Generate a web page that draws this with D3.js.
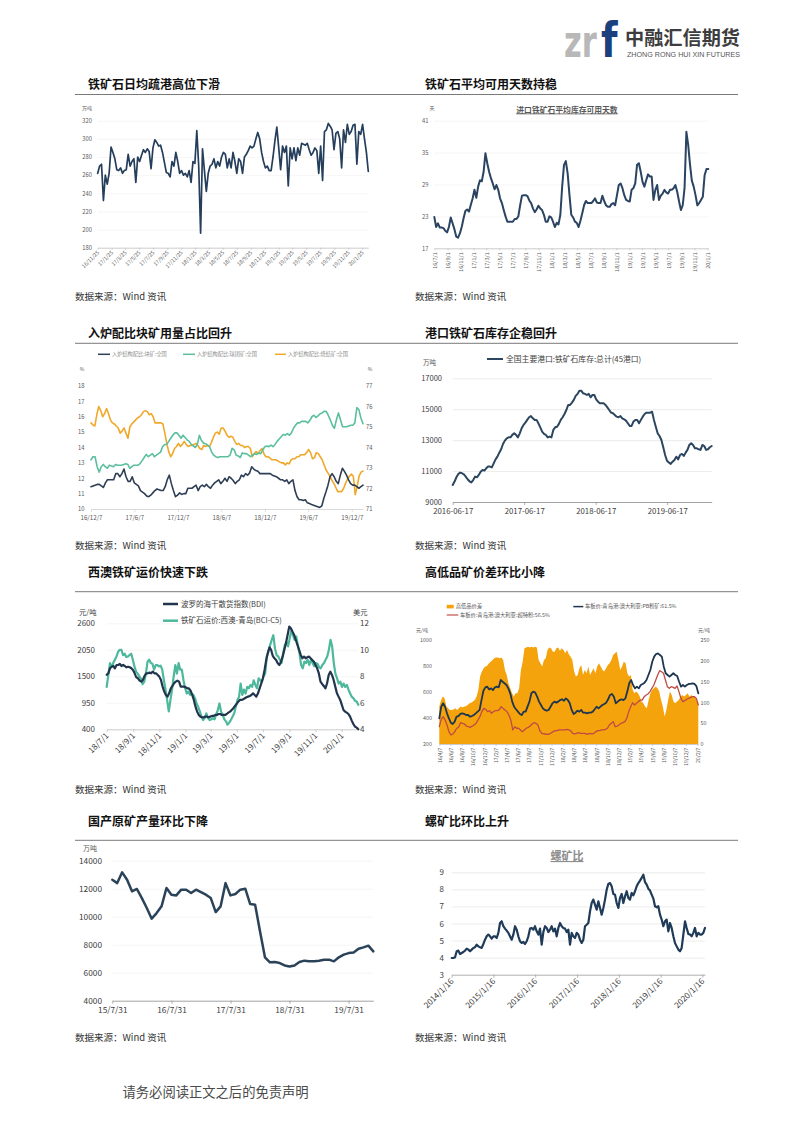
<!DOCTYPE html>
<html><head><meta charset="utf-8">
<script src="https://cdn.jsdelivr.net/npm/d3@7"></script>
<style>body{margin:0;background:#fff}</style>
</head><body><div id="page"></div>
<script>
// ---------------- DATA ----------------
// Chart 1: 铁矿石日均疏港 (万吨)
const c1_ticks = ["16/11/25","17/1/25","17/3/25","17/5/25","17/7/25","17/9/25","17/11/25","18/1/25","18/3/25","18/5/25","18/7/25","18/9/25","18/11/25","19/1/25","19/3/25","19/5/25","19/7/25","19/9/25","19/11/25","20/1/25"];
const c1_yticks = [180,200,220,240,260,280,300,320];
const c1_values = [262,270,272,232,260,250,262,291,285,278,266,265,268,262,265,266,283,270,275,278,252,280,275,282,288,285,289,286,267,290,299,296,292,293,285,274,263,262,258,275,270,285,275,262,265,260,262,258,265,252,275,273,309,270,196,289,265,242,262,270,272,278,268,275,270,280,285,283,268,278,268,285,275,262,278,275,262,280,283,287,292,290,292,300,307,300,285,275,268,270,265,265,280,298,313,290,266,292,285,292,248,290,278,290,276,290,282,295,294,293,295,288,282,285,290,287,262,292,254,308,310,317,314,310,288,306,308,300,268,310,296,316,305,308,315,316,272,308,305,316,300,285,264];

// Chart 2: 进口铁矿石平均库存可用天数 (天)
const c2_ticks = ["16/7/1","16/9/1","16/11/1","17/1/1","17/3/1","17/5/1","17/7/1","17/9/1","17/11/1","18/1/1","18/3/1","18/5/1","18/7/1","18/9/1","18/11/1","19/1/1","19/3/1","19/5/1","19/7/1","19/9/1","19/11/1","20/1/1"];
const c2_yticks = [17,23,29,35,41];
const c2_values = [22.9,21,21.7,20.9,20.9,20.8,20.3,20,21,22.8,21.7,20.6,19.2,19,19.8,21,22.6,24,24.3,23.9,25.2,26.4,28,26.5,28.6,29.8,29.6,31.4,34.9,33,31.4,30.2,29.2,28.1,28.9,28,26.4,25.5,24.2,23,22,22,22,22,22.5,22.5,23,25.1,26.9,27,27,26.8,26,25.5,24.5,23.8,24.3,25,24.5,24.2,23.3,22,22,23,22.8,22,21,21.8,21.5,23.3,28.6,32.7,33.4,31.1,27,23.3,22.8,22,21.8,21,22.2,23.6,25.1,25.9,25.5,25.5,25.5,25.9,26.4,25.6,25.5,25.5,26.9,25.9,25.1,24.8,24.8,25.3,25.5,25.1,27,28.9,29.2,28.3,27,26.1,25.9,25.8,28,28.3,29.2,32.7,33,31.4,29.5,28.6,29.8,30.9,30.5,30.5,26.1,28,28.9,26.1,26.9,27.3,28,27.5,27.3,28,28,28.3,28.9,27.6,25.8,24.2,25.1,28.3,38.9,36.4,32.7,29.7,28.6,27,25.1,25.5,26.1,26.7,30.8,31.9,31.9];

// Chart 3: 入炉结构配比 (%)
const c3_ticks = ["16/12/7","17/6/7","17/12/7","18/6/7","18/12/7","19/6/7","19/12/7"];
const c3_names = ["入炉结构配比:块矿:全国","入炉结构配比:球团矿:全国","入炉结构配比:烧结矿:全国"];
const c3_yticksL = [10,11,12,13,14,15,16,17,18];
const c3_yticksR = [71,72,73,74,75,76,77];
const c3_lump = [11.45,11.5,11.55,11.6,11.6,11.5,11.4,11.7,11.9,11.9,11.9,11.9,12.3,12.3,12.1,12.3,12.6,12.1,11.8,11.8,12.1,11.7,11.6,11.5,11.2,11.1,11,10.85,10.8,10.9,11.05,11.2,11.3,11.25,11.2,11.2,11.45,11.9,12.2,11.65,11.2,10.8,10.9,11.05,10.95,11,11,11.35,11.35,11.35,11.45,11.55,11.2,11.45,11.55,11.45,11.6,11.45,11.35,11.55,11.7,11.8,11.9,11.65,11.8,12,11.8,12.1,12,11.85,11.65,11.8,11.9,12.2,12.1,12.3,12.2,12.35,12.75,12.6,12.5,12.45,12.3,12.3,12.3,12.3,12.3,12.3,12.2,12.15,12.1,12,11.9,11.9,11.8,11.9,11.65,11.8,11.9,11.2,10.8,10.6,10.6,10.55,10.6,10.4,10.35,10.3,10.25,10.2,10.15,10.1,10.2,10.7,11.1,11.55,12.1,12.3,12.1,11.8,11.65,12.2,12.65,12.45,12.2,11.9,11.65,11.55,11.55,11.45,11.35,11.45,11.55];
const c3_pellet = [13.2,13.4,13.4,12.75,12.4,12.75,12.9,12.75,12.65,12.85,12.8,12.75,12.9,12.85,12.85,12.85,12.9,12.95,12.9,12.65,12.75,12.85,12.85,12.85,12.95,13.15,13.35,13.55,13.4,13.5,13.6,13.4,13.5,13.6,13.7,14.05,14.2,14.2,14.4,14.6,14.8,14.95,14.95,14.8,14.6,14.8,14.65,14.5,14.4,14.2,14.1,14,14.2,14.8,14.45,14.3,14.25,14.15,14.05,13.7,13.5,13.4,13.35,13.4,13.4,13.4,13.4,13.4,13.5,13.95,13.85,13.5,13.45,13.35,13.65,13.6,13.6,13.5,13.4,13.5,13.6,13.55,13.65,13.6,13.85,14.05,14.1,14.05,14.15,14.05,14.2,14.4,14.55,14.7,14.85,14.8,14.9,14.8,14.95,15.25,15.45,15.6,15.6,15.7,15.7,15.7,15.6,15.75,16,16.1,15.95,16.05,16.2,16.25,16.35,16.35,16.1,15.8,15.45,15.25,15.8,16.25,15.8,15.35,15.35,15.35,15.4,15.45,15.45,15.6,16.6,16.45,15.9,15.55];
const c3_sinter = [75.2,75.1,75.05,75.6,76.0,75.8,75.5,75.65,75.9,75.65,75.35,75.2,75.15,75.05,74.95,74.7,74.8,74.95,74.7,74.45,75,75.15,75.25,75.35,75.45,75.5,75.6,75.75,75.8,75.75,75.6,75.65,75.5,75.2,75.2,75.2,75.2,75.15,74.7,74.2,73.8,73.55,73.7,73.95,74.05,74.2,74.05,74.15,74.3,74.15,74.05,74.1,74.1,74.15,74.2,74.1,73.95,73.9,74.1,74.05,74.1,74.05,74.25,74.5,74.7,74.75,74.65,74.95,74.95,74.8,74.6,74.5,74.55,74.5,74.3,74.15,74.2,74.1,74.1,74,74.05,74.05,73.95,73.55,73.7,73.8,73.7,73.85,73.95,73.7,73.55,73.55,73.5,73.4,73.4,73.4,73.35,73.3,73.25,73.25,73.15,73.25,73.2,73.4,73.45,73.45,73.55,73.55,73.65,73.65,73.65,73.75,73.9,73.75,73.45,73.5,73.75,73.7,73.55,73.4,73.15,72.9,72.75,72.6,72.4,72.25,72.05,71.85,71.85,71.85,72,72.25,72.45,72.6,72.7,72.6,71.7,72.1,72.6,72.8,72.85];

// Chart 4: 全国主要港口铁矿石库存 (万吨)
const c4_ticks = ["2016-06-17","2017-06-17","2018-06-17","2019-06-17"];
const c4_name = "全国主要港口:铁矿石库存:总计(45港口)";
const c4_yticks = [9000,11000,13000,15000,17000];
const c4_values = [10100,10320,10600,10810,10900,10860,10790,10640,10470,10340,10270,10420,10640,10600,10750,10960,11070,11030,11180,11290,11290,11240,11500,11760,11930,12190,12410,12750,12970,13120,13180,13180,13340,13440,13340,13180,13440,13770,13980,14130,14310,14480,14560,14410,14310,14310,14090,13830,13550,13400,13340,13180,13230,13180,13660,13830,13870,14050,14310,14480,14690,14950,15280,15280,15430,15600,15860,15990,16200,16200,16030,15990,15920,15990,15770,15920,15920,15640,15490,15380,15380,15380,15280,15120,14950,14780,14740,14630,14520,14480,14560,14410,14350,14260,14090,13920,13920,14200,14310,14310,14090,14310,14520,14690,14780,14780,14780,14840,14310,13870,13440,13270,13010,12540,12040,11670,11550,11460,11610,11720,11930,11760,12040,12110,11980,12190,12370,12690,12800,12690,12470,12470,12410,12370,12690,12620,12370,12410,12540,12620];

// Chart 5: BDI & BCI-C5
const c5_ticks = ["18/7/1","18/9/1","18/11/1","19/1/1","19/3/1","19/5/1","19/7/1","19/9/1","19/11/1","20/1/1"];
const c5_names = ["波罗的海干散货指数(BDI)","铁矿石运价:西澳-青岛(BCI-C5)"];
const c5_yticksL = [400,950,1500,2050,2600];
const c5_yticksR = [4,6,8,10,12];
const c5_bdi = [1530,1562,1666,1700,1714,1666,1735,1735,1756,1714,1735,1714,1687,1700,1687,1666,1631,1562,1479,1459,1410,1389,1424,1507,1562,1562,1576,1562,1597,1562,1562,1528,1493,1424,1286,1182,1113,1078,1147,1251,1299,1355,1389,1410,1389,1286,1286,1286,1272,1251,1251,1203,1113,1009,870,767,698,663,649,649,663,663,649,663,677,677,698,698,718,718,698,698,698,718,746,767,801,836,884,926,974,1009,1009,1023,1043,1064,1078,1092,1113,1147,1113,1078,1147,1251,1355,1459,1631,1839,1991,2102,2047,1922,1874,1839,1770,1735,1804,1908,2047,2185,2358,2531,2496,2427,2358,2254,2150,2047,1943,1874,1908,1874,1894,1908,1874,1839,1804,1735,1666,1562,1389,1341,1299,1251,1355,1528,1597,1528,1424,1286,1147,1078,1009,905,801,767,746,718,663,580,511,455,435,400];
const c5_bci = [7.2,8.1,9.0,8.7,9.0,9.25,9.5,9.85,10.0,10.0,9.6,9.7,9.45,9.5,9.6,9.7,9.25,8.75,8.35,8.2,8.0,7.8,7.4,7.6,8.2,9.1,9.25,9.0,8.95,8.5,8.85,8.85,8.75,8.8,8.5,7.7,7.0,6.2,5.35,6.2,7.0,8.0,8.85,8.2,9.0,8.5,8.5,7.7,7.1,6.7,6.85,6.6,6.7,6.6,6.35,5.95,5.7,5.35,4.95,4.7,4.85,5.2,4.85,4.7,4.75,4.85,4.75,5.1,5.45,5.95,5.35,5.1,4.75,4.6,4.35,4.5,4.7,4.95,5.2,5.7,6.2,6.45,7.45,6.6,7.0,6.7,7.2,7.1,7.35,7.2,7.7,7.35,7.1,7.85,7.7,7.6,8.0,8.2,9.5,9.85,10.35,10.75,11.1,10.1,9.6,9.5,9.25,9.0,9.75,10.35,10.6,10.25,10.85,11.5,11.1,10.75,11.0,10.35,9.75,8.85,8.6,9.1,9.0,9.25,8.85,9.25,9.0,8.75,9.0,8.95,8.7,8.6,8.85,9.0,9.25,9.5,10.0,10.75,10.25,9.0,8.2,7.85,7.45,7.6,7.2,7.45,7.2,7.35,7.0,6.7,6.45,6.35,6.15,6.1,5.85];

// Chart 6: 高低品价差 (元/吨)
const c6_ticks = ["16/4/7","16/6/7","16/8/7","16/10/7","16/12/7","17/2/7","17/4/7","17/6/7","17/8/7","17/10/7","17/12/7","18/2/7","18/4/7","18/6/7","18/8/7","18/10/7","18/12/7","19/2/7","19/4/7","19/6/7","19/8/7","19/10/7","19/12/7","20/2/7"];
const c6_names = ["高低品价差","车板价:青岛港:澳大利亚:PB粉矿:61.5%","车板价:青岛港:澳大利亚:超特粉:56.5%"];
const c6_yticksL = [200,400,600,800,1000];
const c6_yticksR = [0,50,100,150,200,250];
const c6_spread = [90,106,114,110,90,86,82,82,83,86,82,86,90,88,90,91,94,98,99,102,106,114,130,162,174,182,186,188,194,198,202,206,208,208,206,208,202,178,166,146,134,122,114,122,122,134,178,198,230,232,234,232,234,232,234,232,202,194,186,202,206,226,232,230,222,222,230,232,224,230,226,218,226,216,210,202,174,162,166,182,190,166,178,170,186,166,174,182,170,186,194,186,178,174,182,190,194,202,214,218,222,202,178,186,198,194,170,162,166,130,122,126,122,114,102,98,90,86,106,122,130,134,138,134,126,106,90,66,82,106,126,118,102,98,102,106,114,118,114,118,122,114,118,114,115,106,98];
const c6_pb = [397,487,513,487,436,397,364,354,372,410,415,431,436,431,423,423,410,415,423,436,449,462,538,610,636,641,620,628,615,636,641,636,692,679,667,654,628,590,526,487,467,449,431,423,449,449,487,526,590,603,595,564,526,500,474,462,456,462,487,513,526,518,526,538,544,533,551,538,513,462,431,441,456,449,462,441,441,436,441,441,449,467,487,474,487,500,508,518,544,577,585,564,513,526,538,544,538,551,603,667,692,654,628,641,628,654,662,672,692,731,769,833,872,892,897,885,872,795,744,731,718,731,744,731,723,679,641,654,641,654,662,662,667,662,646,590];
const c6_ssf = [333,390,410,385,346,295,269,277,295,321,328,364,359,354,338,333,328,338,346,359,385,410,449,474,467,449,456,436,449,456,456,462,487,474,462,449,423,385,308,333,321,321,308,295,308,321,328,338,354,364,359,346,303,282,277,277,274,277,287,295,303,303,308,308,308,308,313,308,303,282,277,282,287,282,282,282,277,277,282,277,282,295,303,303,308,308,313,321,346,359,372,333,338,346,359,364,372,397,449,487,518,500,513,526,538,538,564,577,585,603,628,654,692,731,764,756,744,692,641,628,641,636,628,646,603,551,526,533,544,551,556,564,564,551,500];

// Chart 7: 国产原矿产量 (万吨, 月度)
const c7_ticks = ["15/7/31","16/7/31","17/7/31","18/7/31","19/7/31"];
const c7_yticks = [4000,6000,8000,10000,12000,14000];
const c7_values = [12640,12400,13170,12640,11810,11980,11330,10620,9860,10260,10740,12050,11570,11520,11930,11930,11690,11930,11760,11570,11330,10330,10740,12400,11520,11620,11930,12000,10900,10860,8950,7100,6740,6760,6690,6520,6450,6520,6760,6860,6810,6810,6860,6930,6930,6810,7100,7290,7400,7450,7710,7810,7930,7520];

// Chart 8: 螺矿比
const c8_ticks = ["2014/1/16","2015/1/16","2016/1/16","2017/1/16","2018/1/16","2019/1/16","2020/1/16"];
const c8_yticks = [3,4,5,6,7,8,9];
const c8_values = [3.98,3.98,4.02,4.37,4.41,4.21,4.27,4.33,4.41,4.53,4.47,4.37,4.47,4.57,4.61,4.76,4.66,4.61,4.57,4.8,5.05,5.25,5.35,5.25,5.11,5.25,5.25,5.15,5.45,6.03,6.13,5.84,5.7,5.58,5.45,5.25,5.05,5.35,5.84,5.64,5.25,4.96,4.86,4.92,4.8,4.96,5.25,5.7,5.74,5.64,5.84,5.54,5.35,5.7,4.76,5.5,5.84,5.74,5.5,5.64,5.84,5.54,5.7,5.25,5.74,6.03,5.84,5.74,5.7,5.5,5.64,4.76,5.45,5.25,5.15,5.45,5.35,5.05,4.86,5.05,5.84,5.93,6.03,6.71,7.2,7.4,7.11,6.81,7.3,6.91,6.52,6.91,7.4,7.98,8.32,8.37,8.18,7.73,7.69,7.2,6.91,7.5,7.73,7.2,7.59,7.89,7.5,7.4,7.79,7.65,7.89,8.18,8.37,8.51,8.67,8.86,8.43,8.28,8.04,7.93,7.69,7.46,7.01,6.95,7.01,6.52,6.23,5.84,6.13,6.23,5.54,6.03,5.74,5.25,4.86,4.66,4.47,4.37,4.57,5.35,6.13,5.74,5.39,5.35,5.25,5.45,5.74,5.25,5.45,5.35,5.35,5.45,5.74];

const titles = ["铁矿石日均疏港高位下滑","铁矿石平均可用天数持稳","入炉配比块矿用量占比回升","港口铁矿石库存企稳回升","西澳铁矿运价快速下跌","高低品矿价差环比小降","国产原矿产量环比下降","螺矿比环比上升"];
const sourceText = "数据来源：Wind 资讯";

// ---------------- HELPERS ----------------
const FONT = "'Noto Sans CJK SC','Noto Sans',sans-serif";
const pd = s => { const p = s.split(/[\/-]/).map(Number); return new Date(p[0] < 100 ? 2000 + p[0] : p[0], p[1] - 1, p[2]); };

const svg = d3.select('#page').append('svg').attr('width', 793).attr('height', 1122).style('display', 'block');
svg.append('rect').attr('width', 793).attr('height', 1122).attr('fill', '#fff');

function T(g, x, y, s, size, o = {}) {
  const t = g.append('text').attr('x', x).attr('y', y).text(s)
    .attr('font-size', size).attr('font-family', o.family || FONT)
    .attr('fill', o.fill || '#404040').attr('font-weight', o.weight || 'normal')
    .attr('text-anchor', o.anchor || 'start');
  if (o.dy) t.attr('dy', o.dy);
  return t;
}
function yLabels(g, scale, ticks, x, size, side, color) {
  const ax = (side === 'right' ? d3.axisRight(scale) : d3.axisLeft(scale))
    .tickValues(ticks).tickSize(0).tickPadding(0).tickFormat(d => String(d));
  const a = g.append('g').attr('transform', `translate(${x},0)`).call(ax);
  a.select('.domain').remove();
  a.attr('font-family', FONT).attr('font-size', size);
  a.selectAll('text').attr('fill', color);
  return a;
}
function gridLines(g, scale, ticks, x0, x1, color) {
  const a = g.append('g').attr('transform', `translate(${x0},0)`)
    .call(d3.axisLeft(scale).tickValues(ticks).tickSize(-(x1 - x0)).tickFormat(''));
  a.select('.domain').remove();
  a.selectAll('line').attr('stroke', color).attr('stroke-width', 0.7);
}
function xAxis(g, scale, vals, labels, y, o) {
  const ax = d3.axisBottom(scale).tickValues(vals).tickSize(o.tick || 0).tickSizeOuter(0)
    .tickFormat((d, i) => labels[i]).tickPadding(o.pad == null ? 2 : o.pad);
  const a = g.append('g').attr('transform', `translate(0,${y})`).call(ax);
  a.attr('font-family', FONT).attr('font-size', o.size);
  a.select('.domain').attr('stroke', o.axisColor || '#bfbfbf').attr('stroke-width', o.axisW || 0.8);
  a.selectAll('.tick line').attr('stroke', o.axisColor || '#bfbfbf').attr('stroke-width', 0.7);
  a.selectAll('text').attr('fill', o.color || '#595959');
  if (o.rotate) {
    a.selectAll('text').attr('x', 0).attr('y', 0).attr('dy', '0.35em').attr('text-anchor', 'end')
      .attr('transform', `translate(${o.offx || 0},${o.off}) rotate(${o.rotate})`);
  }
  return a;
}
function idxScale(vals, xs) { return d3.scaleLinear().domain([0, vals.length - 1]).range(xs.range()); }
function drawLine(g, vals, xs, ys, color, w) {
  const xi = idxScale(vals, xs);
  g.append('path').datum(vals).attr('fill', 'none').attr('stroke', color).attr('stroke-width', w)
    .attr('stroke-linejoin', 'round').attr('stroke-linecap', 'round')
    .attr('d', d3.line().x((d, i) => xi(i)).y(d => ys(d)));
}
function legendLine(g, x0, x1, y, color, w, label, size, fill, tx) {
  g.append('line').attr('x1', x0).attr('x2', x1).attr('y1', y).attr('y2', y).attr('stroke', color).attr('stroke-width', w);
  T(g, tx, y, label, size, { fill: fill, dy: '0.35em' });
}

// ---------------- PAGE FRAME ----------------
// logo: letters scaled vertically so their natural width matches the mark
T(svg, 0, 0, 'zr', 29, { family: "'DejaVu Sans'", fill: '#b8b8b8', weight: 'bold' })
  .attr('transform', 'translate(564,56.7) scale(1.05,1.55)');
T(svg, 0, 0, 'f', 38, { family: "'DejaVu Sans'", fill: '#1c3f7e', weight: 'bold' })
  .attr('transform', 'translate(601,56.7) scale(1,1.28)');
T(svg, 625, 45, '中融汇信期货', 19, { fill: '#3d3d3d', weight: 'bold' }).attr('textLength', 115).attr('lengthAdjust', 'spacingAndGlyphs');
T(svg, 627, 56.5, 'ZHONG RONG HUI XIN FUTURES', 6.3, { fill: '#555', family: "'Liberation Sans',sans-serif" }).attr('textLength', 113).attr('lengthAdjust', 'spacingAndGlyphs');

const rowTitleY = [88.5, 337.5, 577, 825.5];
const rowLineY = [94.5, 343.3, 591.7, 840.3];
const rowSrcY = [300.2, 549.2, 793.2, 1041.2];
rowTitleY.forEach((ty, r) => {
  T(svg, 88, ty, titles[r * 2], 12, { fill: '#111', weight: 'bold' });
  T(svg, 425, ty, titles[r * 2 + 1], 12, { fill: '#111', weight: 'bold' });
  svg.append('line').attr('x1', 75).attr('x2', 738).attr('y1', rowLineY[r]).attr('y2', rowLineY[r]).attr('stroke', '#7a7a7a').attr('stroke-width', 1);
  T(svg, 75, rowSrcY[r], sourceText, 9.5, { fill: '#333' });
  T(svg, 415, rowSrcY[r], sourceText, 9.5, { fill: '#333' });
});
T(svg, 122.5, 1097, '请务必阅读正文之后的免责声明', 13.3, { fill: '#4a4a4a' });

// ---------------- CHART 1 ----------------
{
  const g = svg.append('g');
  const x = d3.scaleTime().domain([pd('16/11/25'), new Date(2020, 1, 20)]).range([97.7, 368.3]);
  const y = d3.scaleLinear().domain([180, 320]).range([247.7, 120.7]);
  gridLines(g, y, c1_yticks.slice(1), 97.7, 368.3, '#f1f1f1');
  yLabels(g, y, c1_yticks, 92, 5.8, 'left', '#595959');
  T(g, 82, 108, '万吨', 5, { fill: '#595959', dy: '0.35em' });
  xAxis(g, x, c1_ticks.map(pd), c1_ticks, 247.7, { tick: 2, size: 5.3, rotate: -45, off: 4, axisColor: '#bfbfbf' });
  drawLine(g, c1_values, x, y, '#253e5c', 1.7);
}

// ---------------- CHART 2 ----------------
{
  const g = svg.append('g');
  const x = d3.scaleTime().domain([new Date(2016, 6, 1), new Date(2020, 0, 5)]).range([434.3, 708.3]);
  const y = d3.scaleLinear().domain([17, 41]).range([248.3, 120.7]);
  gridLines(g, y, c2_yticks.slice(1), 434.3, 708.3, '#f1f1f1');
  yLabels(g, y, c2_yticks, 428.5, 5.8, 'left', '#595959');
  T(g, 432, 108, '天', 5, { fill: '#595959', dy: '0.35em', anchor: 'middle' });
  T(g, 567, 112.5, '进口铁矿石平均库存可用天数', 7.8, { fill: '#595959', anchor: 'middle', weight: 'bold' }).style('text-decoration', 'underline');
  xAxis(g, x, c2_ticks.map(pd), c2_ticks, 248.3, { tick: 2, size: 5.5, rotate: -90, off: 4, axisColor: '#bfbfbf' });
  drawLine(g, c2_values, x, y, '#2a4462', 2);
}

// ---------------- CHART 3 ----------------
{
  const g = svg.append('g');
  const x = d3.scaleTime().domain([pd('16/12/7'), new Date(2020, 0, 23)]).range([91, 363]);
  const yL = d3.scaleLinear().domain([10, 18]).range([509, 386]);
  const yR = d3.scaleLinear().domain([71, 77]).range([509, 386]);
  yLabels(g, yL, c3_yticksL, 84.5, 5.8, 'left', '#595959');
  yLabels(g, yR, c3_yticksR, 366, 5.8, 'right', '#595959');
  T(g, 82, 369, '%', 5, { fill: '#595959', dy: '0.35em', anchor: 'middle' });
  T(g, 370, 369, '%', 5, { fill: '#595959', dy: '0.35em', anchor: 'middle' });
  xAxis(g, x, c3_ticks.map(pd), c3_ticks, 509, { tick: 3, size: 6.2, pad: 4, axisColor: '#d0d0d0', color: '#595959' });
  const cols = ['#2d3e55', '#5bbf9f', '#f0a82a'];
  [[98, 110, 112], [183, 195, 197], [275, 286, 288]].forEach((p, i) => legendLine(g, p[0], p[1], 354.3, cols[i], 1.5, c3_names[i], 5.2, '#8a8a8a', p[2]));
  drawLine(g, c3_sinter, x, yR, cols[2], 1.6);
  drawLine(g, c3_pellet, x, yL, cols[1], 1.6);
  drawLine(g, c3_lump, x, yL, cols[0], 1.6);
}

// ---------------- CHART 4 ----------------
{
  const g = svg.append('g');
  const x = d3.scaleTime().domain([pd('2016-06-17'), new Date(2020, 0, 30)]).range([452.7, 711.7]);
  const y = d3.scaleLinear().domain([9000, 17000]).range([502, 378.3]);
  gridLines(g, y, c4_yticks.slice(1), 452.7, 711.7, '#e2e2e2');
  yLabels(g, y, c4_yticks, 442, 7.5, 'left', '#404040');
  T(g, 423, 363, '万吨', 6.5, { fill: '#595959', dy: '0.35em' });
  xAxis(g, x, c4_ticks.map(pd), c4_ticks, 502, { tick: 3, size: 7.8, pad: 3.5, axisColor: '#8c8c8c', color: '#404040' });
  legendLine(g, 487, 503, 359, '#2c4660', 2, c4_name, 7.8, '#404040', 506);
  drawLine(g, c4_values, x, y, '#2c4660', 2);
}

// ---------------- CHART 5 ----------------
{
  const g = svg.append('g');
  const x = d3.scaleTime().domain([pd('18/7/1'), new Date(2020, 1, 9)]).range([106.7, 358.3]);
  const yL = d3.scaleLinear().domain([400, 2600]).range([729.3, 623.3]);
  const yR = d3.scaleLinear().domain([4, 12]).range([729.3, 623.3]);
  gridLines(g, yL, c5_yticksL.slice(1), 106.7, 358.3, '#f0f0f0');
  yLabels(g, yL, c5_yticksL, 95, 8, 'left', '#404040');
  yLabels(g, yR, c5_yticksR, 360, 8, 'right', '#404040');
  T(g, 79, 612, '元/吨', 7.3, { fill: '#404040', dy: '0.35em' });
  T(g, 353, 612, '美元', 7.3, { fill: '#404040', dy: '0.35em' });
  xAxis(g, x, c5_ticks.map(pd), c5_ticks, 729.3, { tick: 3, size: 8.2, rotate: -45, off: 5, axisColor: '#bfbfbf', color: '#404040' });
  legendLine(g, 163, 178, 604, '#22354f', 2.5, c5_names[0], 7.5, '#404040', 181);
  legendLine(g, 163, 178, 620.7, '#4db89b', 2.5, c5_names[1], 7.5, '#404040', 181);
  drawLine(g, c5_bci, x, yR, '#4db89b', 2.2);
  drawLine(g, c5_bdi, x, yL, '#22354f', 2.2);
}

// ---------------- CHART 6 ----------------
{
  const g = svg.append('g');
  const x = d3.scaleTime().domain([pd('16/4/7'), new Date(2020, 1, 12)]).range([439.3, 698.3]);
  const yL = d3.scaleLinear().domain([200, 1000]).range([744, 640]);
  const yR = d3.scaleLinear().domain([0, 250]).range([744, 640]);
  yLabels(g, yL, c6_yticksL, 432, 5.4, 'left', '#595959');
  yLabels(g, yR, c6_yticksR, 700.5, 5.4, 'right', '#595959');
  T(g, 422, 630, '元/吨', 5, { fill: '#595959', dy: '0.35em', anchor: 'middle' });
  T(g, 704, 630, '元/吨', 5, { fill: '#595959', dy: '0.35em', anchor: 'middle' });
  const xi = idxScale(c6_spread, x);
  g.append('path').datum(c6_spread).attr('fill', '#f5a30c')
    .attr('d', d3.area().x((d, i) => xi(i)).y0(yR(0)).y1(d => yR(d)));
  xAxis(g, x, c6_ticks.map(pd), c6_ticks, 744, { tick: 2, size: 5.2, rotate: -90, off: 3.5, axisColor: '#bfbfbf' });
  g.append('rect').attr('x', 446.7).attr('y', 604.8).attr('width', 7).attr('height', 3.6).attr('fill', '#f5a30c');
  T(g, 455.7, 606.6, c6_names[0], 5.3, { fill: '#595959', dy: '0.35em' });
  legendLine(g, 573.3, 583.3, 606.6, '#1e3550', 1.5, c6_names[1], 5.3, '#595959', 585);
  legendLine(g, 446.7, 458.3, 615, '#c0504d', 1.2, c6_names[2], 5.3, '#595959', 460);
  drawLine(g, c6_ssf, x, yL, '#bf4b43', 1.3);
  drawLine(g, c6_pb, x, yL, '#1e3550', 1.8);
}

// ---------------- CHART 7 ----------------
{
  const g = svg.append('g');
  const x = d3.scaleTime().domain([pd('15/7/31'), new Date(2019, 11, 31)]).range([112.3, 373.3]);
  const y = d3.scaleLinear().domain([4000, 14000]).range([1000.7, 860.7]);
  gridLines(g, y, c7_yticks.slice(1), 112.3, 373.3, '#f0f0f0');
  yLabels(g, y, c7_yticks, 102, 8.3, 'left', '#404040');
  T(g, 83, 849, '万吨', 7, { fill: '#595959', dy: '0.35em' });
  xAxis(g, x, c7_ticks.map(pd), c7_ticks, 1000.7, { tick: 3, size: 8.3, pad: 3, axisColor: '#8c8c8c', color: '#404040' });
  drawLine(g, c7_values, x, y, '#2b4358', 2.5);
}

// ---------------- CHART 8 ----------------
{
  const g = svg.append('g');
  const x = d3.scaleTime().domain([pd('2014/1/16'), new Date(2020, 1, 8)]).range([451.7, 705]);
  const y = d3.scaleLinear().domain([3, 9]).range([974.7, 872.3]);
  gridLines(g, y, c8_yticks.slice(1), 451.7, 705, '#e4e4e4');
  yLabels(g, y, c8_yticks, 444, 8, 'left', '#404040');
  T(g, 567, 860, '螺矿比', 11, { fill: '#8c8c8c', anchor: 'middle', weight: 'bold' }).style('text-decoration', 'underline');
  xAxis(g, x, c8_ticks.map(pd), c8_ticks, 974.7, { tick: 3, size: 8.2, rotate: -45, off: 5, axisColor: '#9a9a9a', color: '#404040' });
  drawLine(g, c8_values, x, y, '#1f3b58', 2.2);
}
</script></body></html>
